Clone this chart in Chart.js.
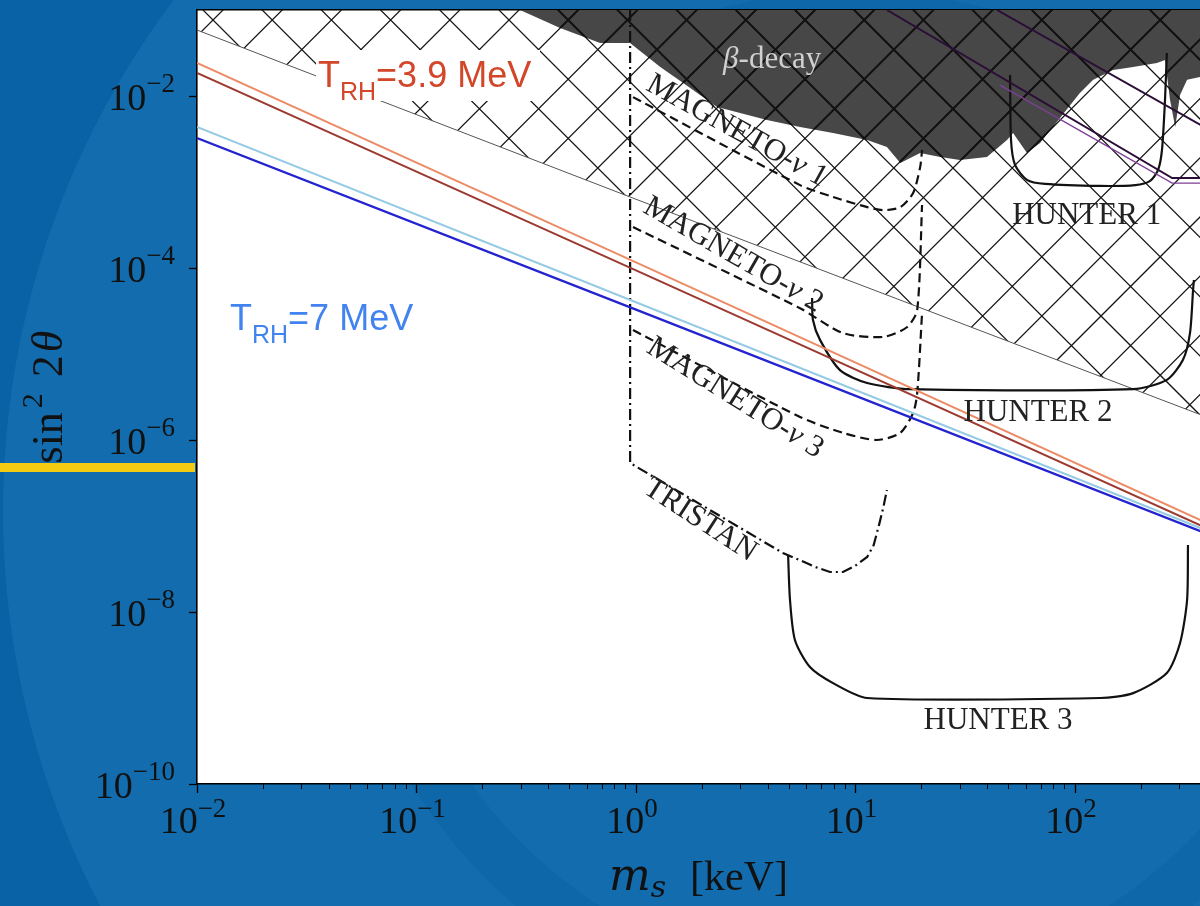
<!DOCTYPE html>
<html>
<head>
<meta charset="utf-8">
<style>
  html, body { margin: 0; padding: 0; background: #0862a5; overflow: hidden; }
  canvas { display: block; }
</style>
<script src="https://cdn.jsdelivr.net/npm/chart.js@4/dist/chart.umd.min.js"></script>
</head>
<body>
<canvas id="c" width="1200" height="906"></canvas>
<script>
// Sterile neutrino parameter space: mass m_s [keV] against mixing sin^2(2θ)

// Axis ticks (powers of ten)
const xTickExponents = [-2, -1, 0, 1, 2];
const yTickExponents = [-10, -8, -6, -4, -2];
const xMinorMultipliers = [2, 3, 4, 5, 6, 7, 8, 9];
const xMin = 0.01, xMax = 371;
const yMin = 1e-10, yMax = 0.1;

// Reheating-temperature lines, [m_s keV, sin^2 2θ]
const trh39Light = [[0.01, 2.42e-2], [1, 1.16e-4], [400, 1.08e-7]];
const trh39Dark  = [[0.01, 1.85e-2], [1, 9.4e-5],  [400, 9.4e-8]];
const trh7Light  = [[0.01, 4.36e-3], [1, 4.0e-5],  [400, 8.8e-8]];
const trh7Dark   = [[0.01, 3.25e-3], [1, 3.28e-5], [400, 8.1e-8]];

// Excluded region (hatched): its lower edge
const excludedEdge = [[0.01, 5.85e-2], [1, 6.3e-4], [434, 1.7e-6]];

// beta-decay bound (filled up to the top of the plot)
const betaDecayEdge = [
  [0.296, 0.1], [0.451, 6.18e-2], [0.686, 4.13e-2], [0.939, 4.13e-2], [1.29, 2.17e-2],
  [1.64, 1.42e-2], [2.34, 7.45e-3], [3.95, 5.26e-3], [5.59, 4.36e-3], [7.90, 3.71e-3],
  [11.3, 3.08e-3], [13.9, 2.55e-3], [16.0, 1.66e-3], [19.7, 2.17e-3], [24.3, 1.95e-3],
  [29.9, 1.80e-3], [39.7, 1.95e-3], [49.0, 3.08e-3], [52.2, 3.71e-3], [60.4, 2.17e-3],
  [69.3, 2.84e-3], [85.4, 5.55e-3], [105, 1.08e-2], [121, 1.54e-2], [149, 2.01e-2],
  [184, 2.17e-2], [236, 2.42e-2], [257, 2.62e-2], [271, 8.98e-3], [286, 4.36e-3],
  [301, 1.03e-2], [324, 1.54e-2], [371, 1.66e-2], [434, 1.8e-2]
];

// Further bounds in the upper right
const upperBoundA = [[13.9, 0.1], [277, 1.11e-3], [434, 1.11e-3]];
const upperBoundB = [[44.1, 0.1], [434, 3.71e-3]];
const upperBoundC = [[45.5, 1.34e-2], [277, 9.7e-4], [434, 9.7e-4]];

// Experimental sensitivities
const hunter1 = [[50.6, 1.75e-2], [51.1, 3.08e-3], [53.3, 1.58e-3], [60.4, 1.06e-3], [73.0, 9.5e-4],
  [130, 9.0e-4], [188, 9.2e-4], [220, 1.03e-3], [239, 1.38e-3], [249, 2.36e-3], [257, 8.98e-3], [262, 3.16e-2]];
const hunter2 = [[6.34, 4.48e-5], [6.40, 2.49e-5], [6.89, 1.46e-5], [8.50, 6.5e-6], [11.3, 4.6e-6],
  [17.7, 3.9e-6], [184, 3.9e-6], [262, 5.0e-6], [310, 8.5e-6], [334, 1.75e-5], [345, 5.55e-5], [348, 7.25e-5]];
const hunter3 = [[4.93, 4.6e-8], [5.03, 1.38e-8], [5.30, 4.7e-9], [6.20, 2.29e-9], [7.90, 1.49e-9],
  [11.3, 1.0e-9], [130, 1.0e-9], [184, 1.14e-9], [262, 1.95e-9], [301, 4.36e-9], [324, 1.38e-8], [327, 6.0e-8]];
const tristan = [[0.94, 0.1], [0.94, 5.4e-7], [4.67, 4.85e-8], [5.59, 4.0e-8], [6.54, 3.34e-8],
  [7.65, 2.92e-8], [8.77, 2.92e-8], [9.95, 3.43e-8], [11.3, 4.36e-8], [12.1, 6.0e-8],
  [12.8, 1.03e-7], [13.4, 1.66e-7], [13.9, 2.62e-7]];
const magneto1 = [[0.969, 9.7e-3], [5.59, 9.2e-4], [7.90, 6.7e-4], [11.3, 5.1e-4], [13.4, 4.7e-4],
  [16.0, 5.1e-4], [18.3, 7.45e-4], [19.7, 1.49e-3], [20.1, 2.36e-3]];
const magneto2 = [[0.969, 3.0e-4], [5.59, 3.4e-5], [8.77, 1.75e-5], [13.4, 1.58e-5], [17.2, 2.06e-5],
  [19.1, 3.25e-5], [20.1, 5.4e-4]];
const magneto3 = [[0.969, 1.9e-5], [5.59, 1.85e-6], [8.77, 1.21e-6], [12.5, 1.0e-6], [16.0, 1.21e-6],
  [18.3, 2.06e-6], [19.1, 3.5e-6], [20.1, 3.0e-5]];

// Curve names, placed at [m_s, sin^2 2θ] with a rotation in degrees
const curveNames = [
  { runs: [['β', 'italic'], ['-decay', '']], at: [4.17, 2.62e-2], angle: 0, color: '#d0d0d0' },
  { runs: [['MAGNETO-', ''], ['ν', 'italic'], [' 1', '']], at: [2.88, 3.92e-3], angle: 29, color: '#222' },
  { runs: [['MAGNETO-', ''], ['ν', 'italic'], [' 2', '']], at: [2.77, 1.42e-4], angle: 30, color: '#222' },
  { runs: [['MAGNETO-', ''], ['ν', 'italic'], [' 3', '']], at: [2.83, 3.08e-6], angle: 32, color: '#222' },
  { runs: [['TRISTAN', '']], at: [1.96, 1.17e-7], angle: 33, color: '#222' },
  { runs: [['HUNTER 1', '']], at: [113, 4.0e-4], angle: 0, color: '#222' },
  { runs: [['HUNTER 2', '']], at: [67.8, 2.06e-6], angle: 0, color: '#222' },
  { runs: [['HUNTER 3', '']], at: [44.6, 5.4e-10], angle: 0, color: '#222' }
];

const SERIF = '"Liberation Serif", "DejaVu Serif", serif';
const SANS = '"Liberation Sans", Arial, sans-serif';

const canvas = document.getElementById('c');
const ctx = canvas.getContext('2d');

// Diagonal cross-hatch (both diagonals, 59.2 px spacing); optional solid backing colour
function makeHatch(target, w, h, backing, ink, width) {
  const t = document.createElement('canvas');
  t.width = w; t.height = h;
  const g = t.getContext('2d');
  if (backing) { g.fillStyle = backing; g.fillRect(0, 0, w, h); }
  const step = 59.2, ox = 213, oy = 20;
  g.strokeStyle = ink;
  g.lineWidth = width;
  g.beginPath();
  for (let c = oy - ox - Math.ceil((w + h) / step) * step; c < h + step; c += step) {
    g.moveTo(-5, -5 + c); g.lineTo(w + 5, w + 5 + c);          // y = x + c
  }
  for (let c = oy + ox - Math.ceil((w + h) / step) * step; c < w + h + 2 * step; c += step) {
    g.moveTo(-5, c + 5); g.lineTo(w + 5, c - w - 5);            // y = -x + c
  }
  g.stroke();
  return target.createPattern(t, 'no-repeat');
}

function series(label, pts, style) {
  return Object.assign({
    label,
    data: pts.map(([x, y]) => ({ x, y })),
    xAxisID: 'x', yAxisID: 'y',
    pointRadius: 0, borderWidth: 2, fill: false, tension: 0
  }, style);
}

function expText(e) { return e < 0 ? '\u2212' + Math.abs(e) : String(e); }

function drawRuns(c, runs, x, y, align) {
  let total = 0;
  const m = runs.map(r => { c.font = r.font; const w = c.measureText(r.t).width; total += w + (r.gap || 0); return w; });
  let cx = align === 'center' ? x - total / 2 : align === 'right' ? x - total : x;
  runs.forEach((r, i) => { c.font = r.font; c.fillText(r.t, cx, y + (r.dy || 0)); cx += m[i] + (r.gap || 0); });
}

// Slide backdrop and white plot face
const backdrop = {
  id: 'backdrop',
  beforeDraw(chart) {
    const { ctx: c, chartArea: a, width, height } = chart;
    c.save();
    c.fillStyle = '#0862a5';
    c.fillRect(0, 0, width, height);
    c.beginPath(); c.arc(854, 511, 851, 0, Math.PI * 2);
    c.fillStyle = '#126cae'; c.fill();
    c.beginPath(); c.arc(854, 511, 520, 0, Math.PI * 2); c.arc(854, 511, 470, 0, Math.PI * 2, true);
    c.fillStyle = '#0d67a9'; c.fill();
    c.fillStyle = '#ffffff';
    c.fillRect(a.left, a.top, a.right - a.left, a.bottom - a.top);
    c.restore();
  }
};

// Curve names and the reheating-temperature notes
const annotations = {
  id: 'annotations',
  afterDatasetsDraw(chart) {
    const c = chart.ctx, xs = chart.scales.x, ys = chart.scales.y;
    c.save();
    c.textBaseline = 'middle';
    curveNames.forEach(n => {
      const px = xs.getPixelForValue(n.at[0]), py = ys.getPixelForValue(n.at[1]);
      c.save();
      c.translate(px, py);
      c.rotate(n.angle * Math.PI / 180);
      c.fillStyle = n.color;
      drawRuns(c, n.runs.map(([t, st]) => ({ t, font: (st ? st + ' ' : '') + '31px ' + SERIF })), 0, 0, 'center');
      c.restore();
    });
    c.textBaseline = 'alphabetic';
    // T_RH = 3.9 MeV on a white box
    c.fillStyle = '#ffffff';
    c.fillRect(316, 50, 224, 51);
    c.fillStyle = '#d2462a';
    drawRuns(c, [
      { t: 'T', font: '36px ' + SANS },
      { t: 'RH', font: '25px ' + SANS, dy: 13 },
      { t: '=3.9 MeV', font: '36px ' + SANS }
    ], 318, 87, 'left');
    c.fillStyle = '#4283f0';
    drawRuns(c, [
      { t: 'T', font: '36px ' + SANS },
      { t: 'RH', font: '25px ' + SANS, dy: 13 },
      { t: '=7 MeV', font: '36px ' + SANS }
    ], 230, 330, 'left');
    c.restore();
  }
};

// Tick labels as powers of ten and the axis titles
const axisText = {
  id: 'axisText',
  afterDraw(chart) {
    const c = chart.ctx, xs = chart.scales.x, ys = chart.scales.y, a = chart.chartArea;
    c.save();
    c.fillStyle = '#111';
    c.textBaseline = 'alphabetic';
    xs.ticks.forEach(t => {
      const e = Math.round(Math.log10(t.value));
      const px = xs.getPixelForValue(t.value);
      drawRuns(c, [
        { t: '10', font: '38px ' + SERIF },
        { t: expText(e), font: '27px ' + SERIF, dy: -16 }
      ], px - 4, a.bottom + 49, 'center');
    });
    ys.ticks.forEach(t => {
      const e = Math.round(Math.log10(t.value));
      const py = ys.getPixelForValue(t.value);
      drawRuns(c, [
        { t: '10', font: '38px ' + SERIF },
        { t: expText(e), font: '27px ' + SERIF, dy: -18 }
      ], 175, py + 14, 'right');
    });
    // x title
    drawRuns(c, [
      { t: 'm', font: 'italic 44px "DejaVu Serif", serif' },
      { t: 's', font: 'italic 30px "DejaVu Serif", serif', dy: 7, gap: 24 },
      { t: '[keV]', font: '42px ' + SERIF }
    ], (a.left + a.right) / 2, 890, 'center');
    // y title, rotated
    c.save();
    c.translate(62, (a.top + a.bottom) / 2);
    c.rotate(-Math.PI / 2);
    drawRuns(c, [
      { t: 'sin', font: '44px ' + SERIF, gap: 4 },
      { t: '2', font: '30px ' + SERIF, dy: -20, gap: 16 },
      { t: '2', font: '44px ' + SERIF, gap: 3 },
      { t: 'θ', font: 'italic 44px ' + SERIF }
    ], 0, 0, 'center');
    c.restore();
    // yellow accent bar
    c.fillStyle = '#f5cb12';
    c.fillRect(0, 463, a.left - 2, 9);
    c.restore();
  }
};

const hatchClear = makeHatch(ctx, canvas.width, canvas.height, null, '#141414', 1.25);
const hatchDark = makeHatch(ctx, canvas.width, canvas.height, '#474747', '#000000', 1.8);

new Chart(ctx, {
  type: 'line',
  data: {
    datasets: [
      series('T_RH=7 MeV', trh7Dark, { borderColor: '#2323cf', borderWidth: 2.2, order: 1 }),
      series('T_RH=7 MeV (upper)', trh7Light, { borderColor: '#95cbe4', order: 2 }),
      series('T_RH=3.9 MeV', trh39Dark, { borderColor: '#9c3a30', order: 3 }),
      series('T_RH=3.9 MeV (upper)', trh39Light, { borderColor: '#ec8c66', order: 4 }),
      series('bound A', upperBoundA, { borderColor: '#2b0d36', order: 5 }),
      series('bound B', upperBoundB, { borderColor: '#2b0d36', order: 6 }),
      series('bound C', upperBoundC, { borderColor: '#7d3f97', borderWidth: 1.4, order: 7 }),
      series('HUNTER 1', hunter1, { borderColor: '#111', borderWidth: 2.2, tension: 0.25, order: 8 }),
      series('HUNTER 2', hunter2, { borderColor: '#111', borderWidth: 2.2, tension: 0.25, order: 9 }),
      series('HUNTER 3', hunter3, { borderColor: '#111', borderWidth: 2.2, tension: 0.25, order: 10 }),
      series('TRISTAN', tristan, { borderColor: '#111', borderWidth: 2.2, borderDash: [11, 4, 2, 4], order: 11 }),
      series('MAGNETO-ν 1', magneto1, { borderColor: '#111', borderWidth: 2.2, borderDash: [9, 5], tension: 0.25, order: 12 }),
      series('MAGNETO-ν 2', magneto2, { borderColor: '#111', borderWidth: 2.2, borderDash: [9, 5], tension: 0.25, order: 13 }),
      series('MAGNETO-ν 3', magneto3, { borderColor: '#111', borderWidth: 2.2, borderDash: [9, 5], tension: 0.25, order: 14 }),
      series('excluded', excludedEdge, { borderColor: '#555', borderWidth: 1, fill: 'end', backgroundColor: hatchClear, order: 20 }),
      series('β-decay', betaDecayEdge, { borderColor: 'rgba(0,0,0,0)', borderWidth: 1, fill: { target: 'end', above: hatchDark, below: hatchDark }, backgroundColor: hatchDark, order: 30 })
    ]
  },
  options: {
    responsive: false,
    animation: false,
    devicePixelRatio: 1,
    events: [],
    layout: { padding: 0 },
    plugins: { legend: { display: false }, tooltip: { enabled: false }, title: { display: false } },
    scales: {
      xMinor: {
        type: 'logarithmic', axis: 'x', position: 'bottom', min: xMin, max: xMax, weight: 0, z: 1,
        afterFit: s => { s.height = 0; },
        afterBuildTicks: s => {
          const t = [];
          xTickExponents.forEach(e => xMinorMultipliers.forEach(k => {
            const v = k * Math.pow(10, e);
            if (v <= xMax) t.push({ value: v });
          }));
          s.ticks = t;
        },
        ticks: { display: false },
        grid: { drawOnChartArea: false, tickLength: 5, tickColor: '#000', tickWidth: 1 },
        border: { display: false }
      },
      x: {
        type: 'logarithmic', axis: 'x', position: 'bottom', min: xMin, max: xMax, weight: 1, z: 1,
        afterFit: s => { s.height = 122; },
        afterBuildTicks: s => { s.ticks = xTickExponents.map(e => ({ value: Math.pow(10, e) })); },
        ticks: { display: false },
        grid: { drawOnChartArea: false, tickLength: 9, tickColor: '#000', tickWidth: 1.3 },
        border: { color: '#000', width: 1.6 }
      },
      xTop: {
        type: 'logarithmic', axis: 'x', position: 'top', min: xMin, max: xMax, z: 1,
        afterFit: s => { s.height = 10; },
        ticks: { display: false },
        grid: { display: false },
        border: { color: '#000', width: 1.6 }
      },
      y: {
        type: 'logarithmic', axis: 'y', position: 'left', min: yMin, max: yMax, z: 1,
        afterFit: s => { s.width = 197; },
        afterBuildTicks: s => { s.ticks = yTickExponents.map(e => ({ value: Math.pow(10, e) })); },
        ticks: { display: false },
        grid: { drawOnChartArea: false, tickLength: 8, tickColor: '#000', tickWidth: 1.3 },
        border: { color: '#000', width: 1.6 }
      }
    }
  },
  plugins: [backdrop, annotations, axisText]
});
</script>
</body>
</html>
